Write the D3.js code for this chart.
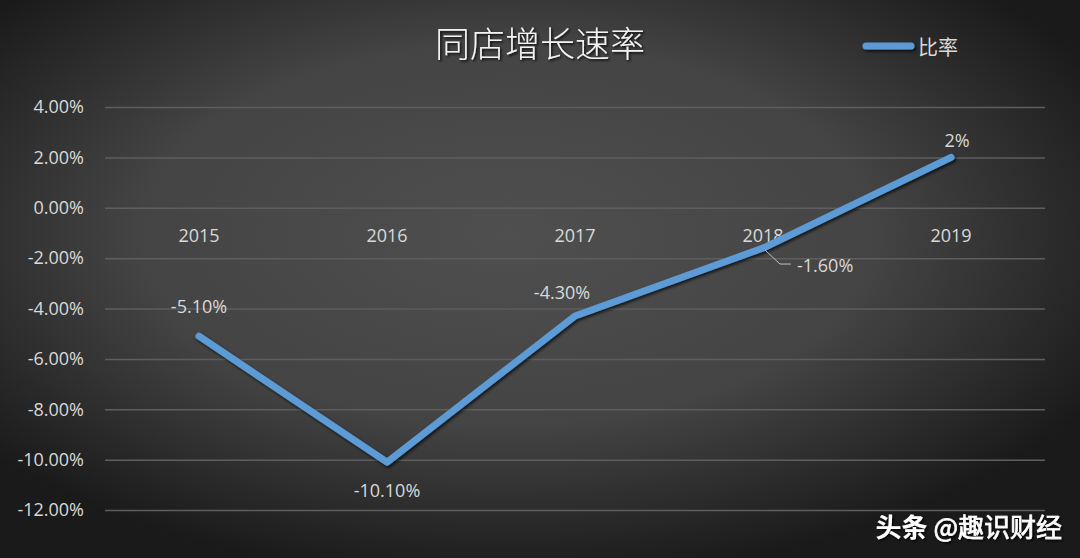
<!DOCTYPE html>
<html><head><meta charset="utf-8">
<script src="https://cdn.jsdelivr.net/npm/d3@7/dist/d3.min.js"></script>
<style>html,body{margin:0;padding:0;background:#333;}svg{display:block;}</style>
</head><body>
<svg id="chart" width="1080" height="558"></svg>
<script>
const title = "同店增长速率";
const seriesName = "比率";
const categories = ["2015", "2016", "2017", "2018", "2019"];
const values = [-5.1, -10.1, -4.3, -1.6, 2.0];
const valueLabels = ["-5.10%", "-10.10%", "-4.30%", "-1.60%", "2%"];
const yTicks = [4, 2, 0, -2, -4, -6, -8, -10, -12];
const watermark = ["头条", "@趣识财经"];

const W = 1080, H = 558;
const svg = d3.select("#chart");
const defs = svg.append("defs");

const grad = defs.append("radialGradient").attr("id", "bg")
  .attr("cx", "0.47").attr("cy", "0.42").attr("r", "0.62");
grad.append("stop").attr("offset", "0").attr("stop-color", "#4f4f4f");
grad.append("stop").attr("offset", "0.55").attr("stop-color", "#444444");
grad.append("stop").attr("offset", "1").attr("stop-color", "#1a1a1a");
svg.append("rect").attr("width", W).attr("height", H).attr("fill", "url(#bg)");

const sh = defs.append("filter").attr("id", "shadow").attr("filterUnits", "userSpaceOnUse")
  .attr("x", 0).attr("y", 0).attr("width", W).attr("height", H);
sh.append("feDropShadow").attr("dx", 1.5).attr("dy", 2).attr("stdDeviation", 1.5).attr("flood-color", "#000").attr("flood-opacity", 0.7);
const tsh = defs.append("filter").attr("id", "tshadow");
tsh.append("feDropShadow").attr("dx", 1.5).attr("dy", 1.5).attr("stdDeviation", 1).attr("flood-color", "#000").attr("flood-opacity", 0.85);

const x = d3.scaleBand().domain(categories).range([105, 1045]);
const y = d3.scaleLinear().domain([-12, 4]).range([510, 107]);

const font = "'Noto Sans CJK SC', 'Open Sans', sans-serif";
const latin = "'Open Sans', 'Noto Sans', sans-serif";
const txt = "#d9d9d9";
const pct = d => d3.format(".2f")(d).replace("\u2212", "-") + "%";

// gridlines
const yAxis = d3.axisLeft(y).tickValues(yTicks).tickSize(-(1045 - 105)).tickPadding(21)
  .tickFormat(pct);
const gy = svg.append("g").attr("transform", "translate(105,0)").call(yAxis);
gy.select(".domain").remove();
gy.selectAll(".tick line").attr("stroke", "#5e5e5e").attr("stroke-width", 1.5);
gy.selectAll(".tick text").attr("fill", txt).attr("font-family", latin).attr("font-size", 18);

// category axis at zero
const xAxis = d3.axisBottom(x).tickSize(0).tickPadding(21);
const gx = svg.append("g").attr("transform", `translate(0,${y(0)})`).call(xAxis);
gx.select(".domain").remove();
gx.selectAll(".tick text").attr("fill", txt).attr("font-family", latin).attr("font-size", 18);

// line
const pts = categories.map((c, i) => [x(c) + x.bandwidth() / 2, y(values[i])]);
const line = d3.line().x(d => d[0]).y(d => d[1]);
svg.append("path").datum(pts).attr("d", line).attr("fill", "none")
  .attr("stroke", "#5b9bd5").attr("stroke-width", 7)
  .attr("stroke-linejoin", "round").attr("stroke-linecap", "round")
  .attr("filter", "url(#shadow)");

// data labels
const offsets = [[0, -30], [0, 28], [-13, -24], [34, 17], [6, -17]];
const anchors = ["middle", "middle", "middle", "start", "middle"];
svg.append("g").selectAll("text").data(valueLabels).join("text")
  .attr("x", (d, i) => pts[i][0] + offsets[i][0])
  .attr("y", (d, i) => pts[i][1] + offsets[i][1])
  .attr("text-anchor", (d, i) => anchors[i])
  .attr("dominant-baseline", "central")
  .attr("fill", txt).attr("font-family", latin).attr("font-size", 18)
  .text(d => d);

// leader line for 2018
const p3 = pts[3];
svg.append("path")
  .attr("d", d3.line()([[p3[0] + 2, p3[1] + 2], [p3[0] + 17, p3[1] + 16], [p3[0] + 28, p3[1] + 16]]))
  .attr("fill", "none").attr("stroke", "#bfbfbf").attr("stroke-width", 1);

// title
svg.append("text").attr("x", 540).attr("y", 41).attr("text-anchor", "middle")
  .attr("dominant-baseline", "central")
  .attr("fill", "#f2f2f2").attr("font-family", font).attr("font-size", 35).attr("font-weight", 300)
  .attr("filter", "url(#tshadow)").text(title);

// legend
svg.append("line").attr("x1", 866).attr("x2", 911).attr("y1", 46).attr("y2", 46)
  .attr("stroke", "#5b9bd5").attr("stroke-width", 7).attr("stroke-linecap", "round")
  .attr("filter", "url(#shadow)");
svg.append("text").attr("x", 918).attr("y", 46).attr("dominant-baseline", "central")
  .attr("fill", txt).attr("font-family", font).attr("font-size", 20).text(seriesName);

// watermark
const wm = svg.append("text").attr("x", 1062).attr("y", 525).attr("text-anchor", "end")
  .attr("dominant-baseline", "central").attr("font-family", font).attr("font-size", 26)
  .attr("fill", "#ffffff").attr("filter", "url(#tshadow)");
wm.append("tspan").attr("font-weight", 700).text(watermark[0] + " ");
wm.append("tspan").attr("font-weight", 400).attr("stroke", "#ffffff").attr("stroke-width", 0.6).text(watermark[1]);
</script>
</body></html>
